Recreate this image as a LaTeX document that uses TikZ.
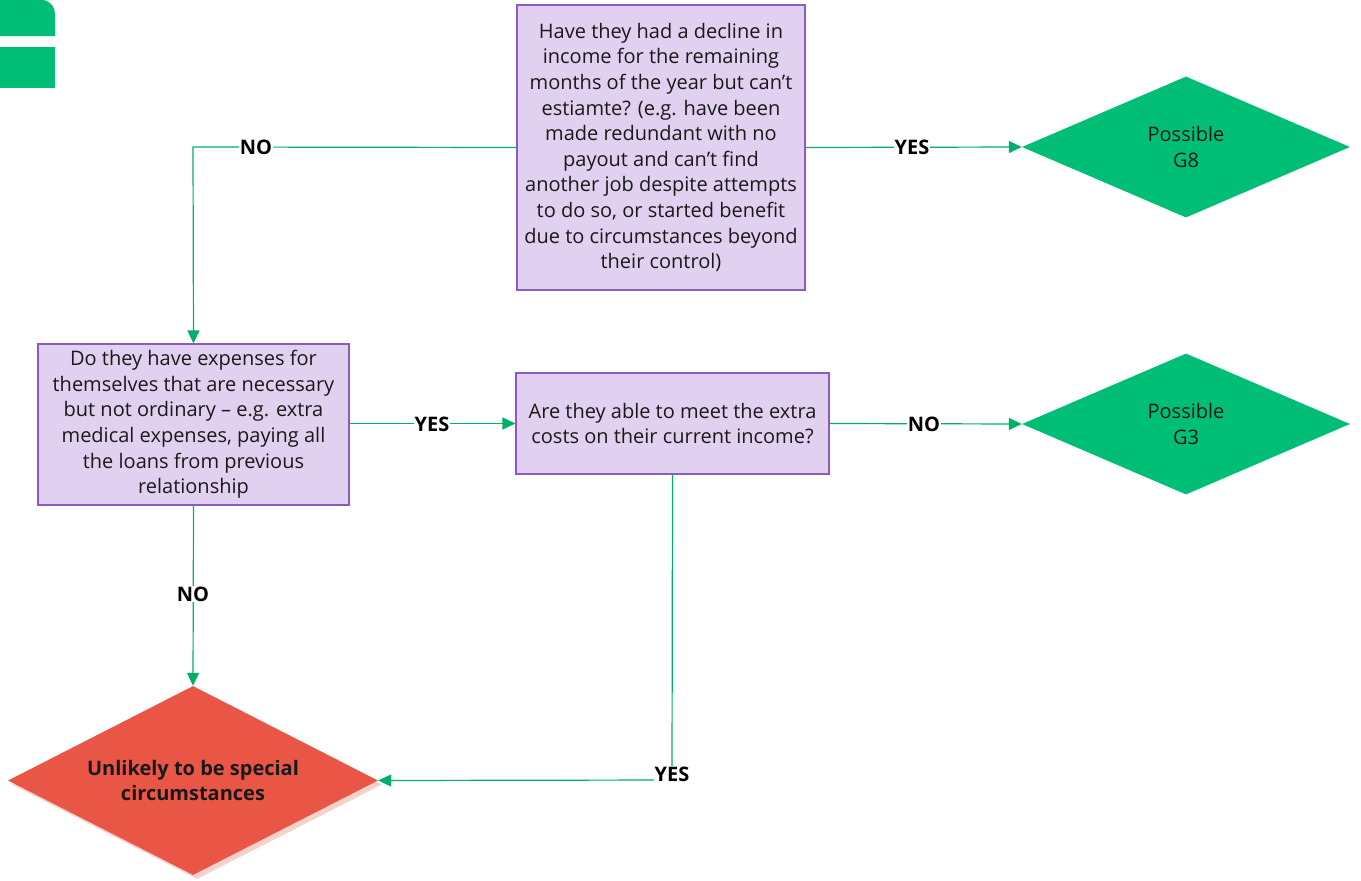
\documentclass[tikz,border=0pt]{standalone}
\usepackage{fontspec}
\setmainfont{Open Sans}
\usetikzlibrary{shapes.geometric,arrows.meta,shadows}
\definecolor{boxfill}{HTML}{E2D0F0}
\definecolor{boxline}{HTML}{8A5CC2}
\definecolor{grn}{HTML}{00BE75}
\definecolor{lnk}{HTML}{00B06A}
\definecolor{redd}{HTML}{EA5645}
\definecolor{shad}{HTML}{F6D2CC}
\begin{document}
\begin{tikzpicture}[x=1pt,y=-1pt,
  txt/.style={font=\fontsize{20}{25.6}\selectfont, align=center, text=black!90},
  qbox/.style={txt, draw=boxline, fill=boxfill, line width=1.1pt, inner sep=0pt, anchor=center},
  dia/.style={txt, diamond, fill=grn, minimum width=328pt, minimum height=141pt, inner sep=0pt, aspect=2.33},
  conn/.style={draw=lnk, line width=1.2pt, -{Triangle[length=13pt,width=12pt]}},
  lab/.style={font=\fontsize{20}{22}\selectfont\bfseries, fill=white, inner sep=1pt, text=black}]
\useasboundingbox (0,0) rectangle (1361,881);
% logo fragment
\fill[grn] (0,0) -- (44,0) .. controls (51,2) and (55,7) .. (55,14) -- (55,36) -- (0,36) -- cycle;
\fill[grn] (0,47) rectangle (55,88);
% boxes
\node[qbox, minimum width=288pt, minimum height=285pt] (q1) at (661,147.5) {Have they had a decline in\\income for the remaining\\months of the year but can’t\\estiamte? (e.g. have been\\made redundant with no\\payout and can’t find\\another job despite attempts\\to do so, or started benefit\\due to circumstances beyond\\their control)};
\node[qbox, minimum width=311pt, minimum height=161pt] (q2) at (193.5,424.5) {Do they have expenses for\\themselves that are necessary\\but not ordinary – e.g. extra\\medical expenses, paying all\\the loans from previous\\relationship};
\node[qbox, minimum width=313pt, minimum height=101pt] (q3) at (672.5,423.5) {Are they able to meet the extra\\costs on their current income?};
% outcomes
\node[dia] (g8) at (1186,147) {Possible\\G8};
\node[dia] (g3) at (1186,424) {Possible\\G3};
\node[txt, diamond, fill=redd, minimum width=370pt, minimum height=189pt, inner sep=0pt, aspect=1.96, font=\fontsize{20}{25}\selectfont\bfseries,
  drop shadow={shadow xshift=4pt,shadow yshift=-4pt,fill=shad,opacity=1}] (un) at (193,780.5) {Unlikely to be special\\circumstances};
% connectors
\coordinate (c1) at (193,147);
\coordinate (c2) at (672,780);
\draw[conn] (q1.west) -- (c1) -- (q2.north);
\node[lab] at (256,147) {NO};
\draw[conn] (q1.east) -- (g8.west);
\node[lab] at (912,147) {YES};
\draw[conn] (q2.east |- q3.west) -- (q3.west);
\node[lab] at (432,424) {YES};
\draw[conn] (q3.east) -- (g3.west);
\node[lab] at (924,424) {NO};
\draw[conn] (q2.south) -- (un.north);
\node[lab] at (193,594) {NO};
\draw[conn] (q3.south) -- (c2) -- (un.east);
\node[lab] at (672,774) {YES};
\end{tikzpicture}
\end{document}
